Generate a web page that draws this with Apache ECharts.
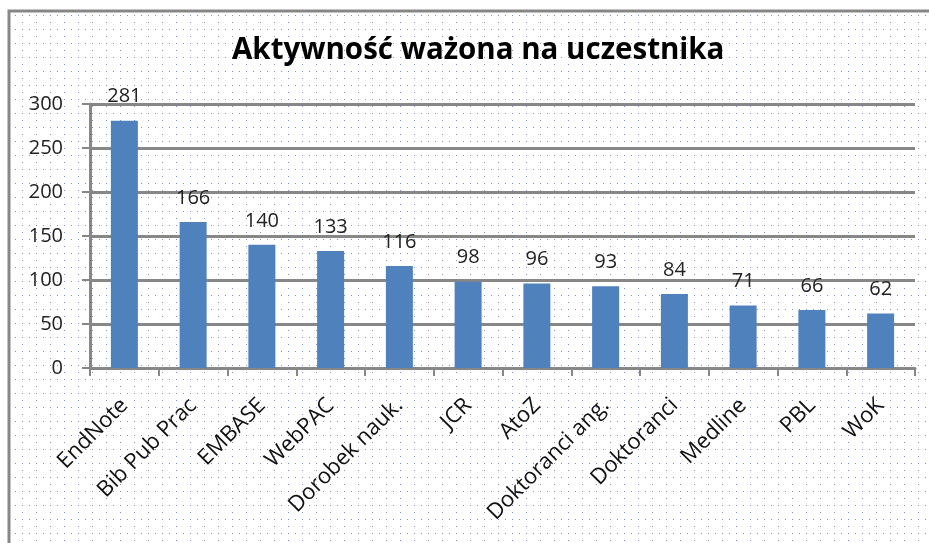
<!DOCTYPE html>
<html>
<head>
<meta charset="utf-8">
<script src="https://cdn.jsdelivr.net/npm/echarts@6/dist/echarts.min.js"></script>
<style>
  html, body { margin: 0; padding: 0; background: #fff; }
  #chart { width: 929px; height: 543px; }
</style>
</head>
<body>
<div id="chart"></div>
<script>
var categories = ['EndNote', 'Bib Pub Prac', 'EMBASE', 'WebPAC', 'Dorobek nauk.', 'JCR', 'AtoZ', 'Doktoranci ang.', 'Doktoranci', 'Medline', 'PBL', 'WoK'];
var values = [281, 166, 140, 133, 116, 98, 96, 93, 84, 71, 66, 62];
var yTicks = [0, 50, 100, 150, 200, 250, 300];

// dotted Excel-like background tile
function dotTile() {
  var c = document.createElement('canvas');
  c.width = 14; c.height = 14;
  var ctx = c.getContext('2d');
  ctx.fillStyle = '#fff';
  ctx.fillRect(0, 0, 14, 14);
  ctx.fillStyle = '#7d93bd';
  ctx.fillRect(1, 1, 1, 1);
  ctx.fillRect(8, 1, 1, 1);
  ctx.fillRect(8, 8, 1, 1);
  return c;
}

var gray = '#878787';
var myChart = echarts.init(document.getElementById('chart'));
myChart.setOption({
  backgroundColor: '#fff',
  animation: false,
  graphic: [
    {
      type: 'rect', z: -10, silent: true,
      shape: { x: 10, y: 12, width: 929, height: 543 },
      style: { fill: { image: dotTile(), repeat: 'repeat' } }
    },
    {
      type: 'polyline', z: -9, silent: true,
      shape: { points: [[9, 543], [9, 11], [929, 11]] },
      style: { stroke: gray, lineWidth: 3, fill: null }
    }
  ],
  title: {
    text: 'Aktywność ważona na uczestnika',
    left: 227,
    top: 31,
    textStyle: {
      fontFamily: 'Open Sans',
      fontWeight: 'bold',
      fontSize: 29.5,
      color: '#000'
    }
  },
  grid: { left: 90, right: 14, top: 104, bottom: 175 },
  xAxis: {
    type: 'category',
    data: categories,
    axisLine: { lineStyle: { color: gray, width: 3 } },
    axisTick: { show: true, length: 8, lineStyle: { color: gray, width: 2 } },
    axisLabel: {
      rotate: 45,
      margin: 34,
      fontFamily: 'Open Sans',
      fontSize: 22,
      color: '#111'
    }
  },
  yAxis: {
    type: 'value',
    min: 0,
    max: 300,
    interval: 50,
    axisLine: { show: true, lineStyle: { color: gray, width: 3 } },
    axisTick: { show: true, length: 8, lineStyle: { color: gray, width: 2 } },
    splitLine: { lineStyle: { color: gray, width: 3 } },
    axisLabel: {
      margin: 27,
      fontFamily: 'Open Sans',
      fontSize: 20,
      color: '#222',
      formatter: function (v) { return yTicks.indexOf(v) >= 0 ? String(v) : ''; }
    }
  },
  series: [{
    type: 'bar',
    data: values,
    barWidth: 27,
    itemStyle: { color: '#4f81bd' },
    label: {
      show: true,
      position: 'top',
      distance: 14,
      fontFamily: 'Open Sans',
      fontSize: 20,
      color: '#222'
    }
  }]
});
</script>
</body>
</html>
